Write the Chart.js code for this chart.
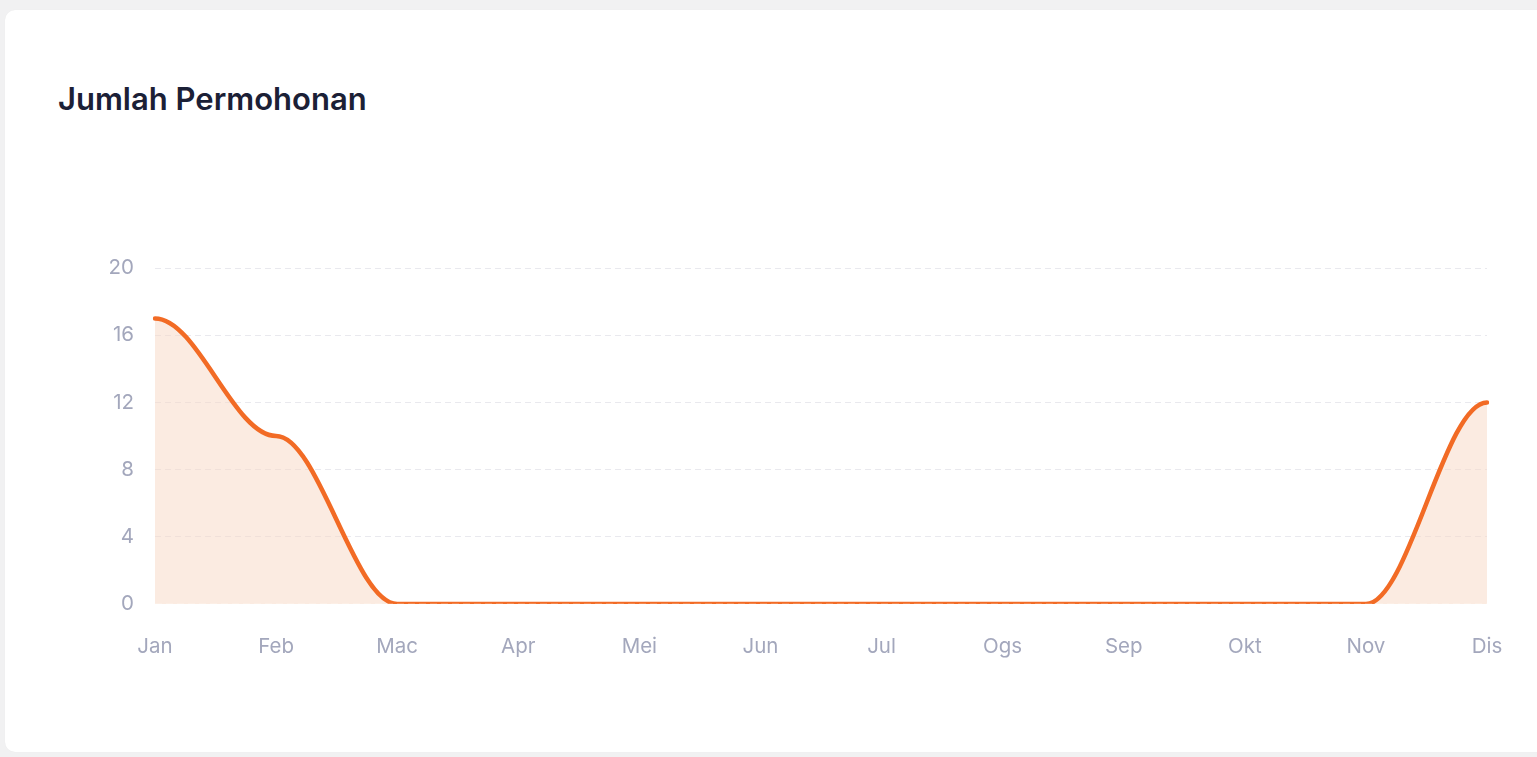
<!DOCTYPE html>
<html>
<head>
<meta charset="utf-8">
<script src="https://cdn.jsdelivr.net/npm/chart.js@4.4.1/dist/chart.umd.min.js"></script>
<style>
  html, body { margin: 0; padding: 0; width: 1537px; height: 757px; background: #f1f1f2; overflow: hidden; font-family: Inter, "Noto Sans", sans-serif; }
  .card { position: absolute; left: 5px; top: 10px; width: 1545px; height: 742px; background: #ffffff; border-radius: 10px; box-shadow: 0 0 1px rgba(0,0,0,0.06); }
  h2 { position: absolute; left: 58px; top: 84px; margin: 0; font-size: 31px; line-height: 30px; font-weight: 600; color: #1b2036; letter-spacing: 0; }
  .wrap { position: absolute; left: 0; top: 0; width: 1537px; height: 757px; }
</style>
</head>
<body>
<div class="card"></div>
<h2>Jumlah Permohonan</h2>
<div class="wrap"><canvas id="c"></canvas></div>
<script>
const months = ["Jan", "Feb", "Mac", "Apr", "Mei", "Jun", "Jul", "Ogs", "Sep", "Okt", "Nov", "Dis"];
const permohonan = [17, 10, 0, 0, 0, 0, 0, 0, 0, 0, 0, 12];
const yTicks = [0, 4, 8, 12, 16, 20];

// horizontal-tangent smoothing (control points offset horizontally)
const smoothPlugin = {
  id: 'hsmooth',
  beforeDatasetsDraw(chart) {
    chart.getSortedVisibleDatasetMetas().forEach(meta => {
      const pts = meta.data;
      for (let i = 0; i < pts.length; i++) {
        const p = pts[i];
        const prev = pts[i - 1], next = pts[i + 1];
        if (prev) { const d = (p.x - prev.x) * 0.35; p.cp1x = p.x - d; p.cp1y = p.y; }
        else { p.cp1x = p.x; p.cp1y = p.y; }
        if (next) { const d = (next.x - p.x) * 0.35; p.cp2x = p.x + d; p.cp2y = p.y; }
        else { p.cp2x = p.x; p.cp2y = p.y; }
      }
      if (meta.dataset) { meta.dataset._path = undefined; meta.dataset._pointsUpdated = true; }
    });
  }
};

// zero grid line drawn above the series
const zeroLinePlugin = {
  id: 'zeroline',
  afterDatasetsDraw(chart) {
    const { ctx, chartArea, scales } = chart;
    const y = Math.round(scales.y.getPixelForValue(0)) + 0.5;
    ctx.save();
    ctx.strokeStyle = 'rgba(255, 255, 255, 0.7)';
    ctx.lineWidth = 1.5;
    ctx.setLineDash([7, 4]);
    ctx.beginPath();
    ctx.moveTo(chartArea.left, y);
    ctx.lineTo(chartArea.right, y);
    ctx.stroke();
    ctx.restore();
  }
};

new Chart(document.getElementById('c'), {
  type: 'line',
  data: {
    labels: months,
    datasets: [{
      data: permohonan,
      borderColor: '#f26b25',
      backgroundColor: 'rgba(248, 215, 196, 0.5)',
      borderWidth: 4.5,
      fill: 'origin',
      tension: 0.4,
      pointRadius: 0,
      pointHoverRadius: 0,
      borderCapStyle: 'round'
    }]
  },
  options: {
    responsive: true,
    maintainAspectRatio: false,
    animation: false,
    events: [],
    layout: { padding: { top: 268, right: 50, bottom: 0, left: 0 } },
    plugins: { legend: { display: false }, tooltip: { enabled: false } },
    scales: {
      x: {
        grid: { display: false, drawTicks: false },
        border: { display: false },
        ticks: { color: '#a3a7bc', font: { family: 'Inter', size: 20.5 }, padding: 31, maxRotation: 0, autoSkip: false },
        afterFit(s) { s.height = 153; }
      },
      y: {
        min: 0, max: 20,
        afterBuildTicks(s) { s.ticks = yTicks.map(v => ({ value: v })); },
        grid: { color: ctx => ctx.tick && ctx.tick.value === 0 ? 'transparent' : '#e9e9ee', drawTicks: false, lineWidth: 1 },
        border: { display: false, dash: [6, 4] },
        ticks: { color: '#a3a7bc', font: { family: 'Inter', size: 20.5 }, padding: 21 },
        afterFit(s) { s.width = 155; }
      }
    }
  },
  plugins: [smoothPlugin, zeroLinePlugin]
});
</script>
</body>
</html>
